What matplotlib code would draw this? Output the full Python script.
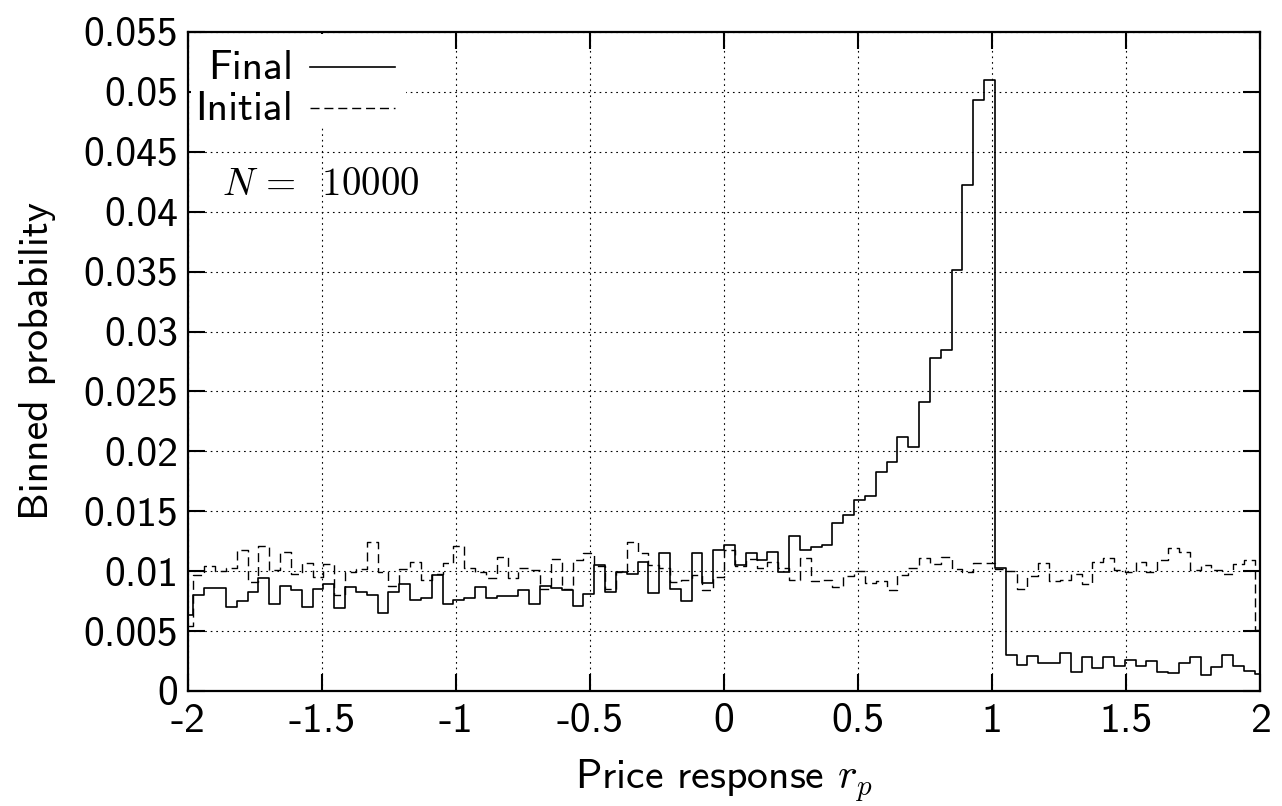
import numpy as np
import matplotlib
matplotlib.use("Agg")
import matplotlib.pyplot as plt
from matplotlib.lines import Line2D
from matplotlib.patches import Rectangle

plt.rcParams['font.family'] = ['cmss10', 'DejaVu Sans']
plt.rcParams['mathtext.fontset'] = 'cm'
plt.rcParams['axes.unicode_minus'] = False

# bin positions (100 points from -2 to 2)
x = np.linspace(-2, 2, 100)

final = [0.0063, 0.0080, 0.0086, 0.0086, 0.0070, 0.0075, 0.0083, 0.0094, 0.0073, 0.0088,
         0.0084, 0.0070, 0.0085, 0.0089, 0.0069, 0.0087, 0.0083, 0.0080, 0.0065, 0.0083,
         0.0089, 0.0076, 0.0078, 0.0097, 0.0073, 0.0076, 0.0078, 0.0087, 0.0078, 0.0079,
         0.0079, 0.0084, 0.0073, 0.0088, 0.0086, 0.0084, 0.0071, 0.0081, 0.0105, 0.0083,
         0.0099, 0.0098, 0.0108, 0.0082, 0.0115, 0.0085, 0.0075, 0.0115, 0.0090, 0.0118,
         0.0122, 0.0105, 0.0115, 0.0109, 0.0116, 0.0099, 0.0129, 0.0118, 0.0120, 0.0122,
         0.0140, 0.0147, 0.0159, 0.0163, 0.0183, 0.0191, 0.0212, 0.0204, 0.0241, 0.0278,
         0.0285, 0.0351, 0.0422, 0.0493, 0.0510, 0.0103, 0.0030, 0.0022, 0.0029, 0.0023,
         0.0023, 0.0032, 0.0016, 0.0028, 0.0019, 0.0028, 0.0021, 0.0026, 0.0021, 0.0025,
         0.0016, 0.0015, 0.0023, 0.0028, 0.0013, 0.0020, 0.0030, 0.0021, 0.0017, 0.0014]

initial = [0.0054, 0.0097, 0.0104, 0.0100, 0.0103, 0.0118, 0.0091, 0.0121, 0.0101, 0.0116,
           0.0098, 0.0107, 0.0095, 0.0106, 0.0080, 0.0099, 0.0102, 0.0124, 0.0099, 0.0088,
           0.0102, 0.0108, 0.0093, 0.0098, 0.0107, 0.0121, 0.0103, 0.0099, 0.0094, 0.0112,
           0.0094, 0.0103, 0.0101, 0.0085, 0.0110, 0.0085, 0.0109, 0.0115, 0.0104, 0.0085,
           0.0099, 0.0124, 0.0115, 0.0105, 0.0103, 0.0091, 0.0093, 0.0097, 0.0084, 0.0095,
           0.0118, 0.0104, 0.0110, 0.0103, 0.0108, 0.0103, 0.0093, 0.0111, 0.0092, 0.0093,
           0.0087, 0.0096, 0.0100, 0.0090, 0.0092, 0.0084, 0.0097, 0.0103, 0.0111, 0.0106,
           0.0112, 0.0102, 0.0099, 0.0107, 0.0107, 0.0102, 0.0100, 0.0085, 0.0096, 0.0107,
           0.0092, 0.0093, 0.0098, 0.0089, 0.0108, 0.0111, 0.0101, 0.0099, 0.0108, 0.0099,
           0.0109, 0.0119, 0.0116, 0.0101, 0.0105, 0.0101, 0.0098, 0.0106, 0.0109, 0.0051]

xticks = [-2, -1.5, -1, -0.5, 0, 0.5, 1, 1.5, 2]
xtick_labels = ["-2", "-1.5", "-1", "-0.5", "0", "0.5", "1", "1.5", "2"]
yticks = [0, 0.005, 0.01, 0.015, 0.02, 0.025, 0.03, 0.035, 0.04, 0.045, 0.05, 0.055]
ytick_labels = ["0", "0.005", "0.01", "0.015", "0.02", "0.025", "0.03", "0.035",
                "0.04", "0.045", "0.05", "0.055"]

fs = 30
dash = (6.5, 3.5)

fig = plt.figure(figsize=(12.82, 8.06), dpi=100)
ax = fig.add_axes([0.1467, 0.1427, 0.8363, 0.8176])

ax.step(x, final, where='mid', color='black', lw=1.2)
ax.step(x, initial, where='mid', color='black', lw=1.0, dashes=dash)

ax.set_xlim(-2, 2)
ax.set_ylim(0, 0.055)
ax.set_xticks(xticks)
ax.set_xticklabels(xtick_labels)
ax.set_yticks(yticks)
ax.set_yticklabels(ytick_labels)
ax.tick_params(direction='in', length=12, width=1.5, labelsize=fs, top=True, right=True)
ax.tick_params(axis='x', pad=9)
ax.tick_params(axis='y', pad=7)
for s in ax.spines.values():
    s.set_linewidth(1.6)
ax.grid(True, color='black', lw=0.8, dashes=(1.5, 3.5))

ax.set_xlabel(r'Price response $r_p$', fontsize=fs, labelpad=12)
ax.set_ylabel('Binned probability', fontsize=fs, labelpad=20)

ax.text(-1.875, 0.0422, r'$N\,=\;\;10000$', fontsize=fs - 2, va='center', ha='left')

# gnuplot-style key: text right-aligned, sample line after it, opaque box
ax.add_patch(Rectangle((0.003, 0.855), 0.2, 0.142, transform=ax.transAxes,
                       facecolor='white', edgecolor='none', zorder=3))
ax.text(0.098, 0.945, 'Final', transform=ax.transAxes, fontsize=fs,
        ha='right', va='center', zorder=4)
ax.text(0.098, 0.882, 'Initial', transform=ax.transAxes, fontsize=fs,
        ha='right', va='center', zorder=4)
ax.add_line(Line2D([0.114, 0.193], [0.9469, 0.9469], transform=ax.transAxes,
                   color='black', lw=1.2, zorder=4))
ax.add_line(Line2D([0.114, 0.193], [0.8847, 0.8847], transform=ax.transAxes,
                   color='black', lw=1.0, dashes=dash, zorder=4))

fig.savefig('out.png', dpi=100)
